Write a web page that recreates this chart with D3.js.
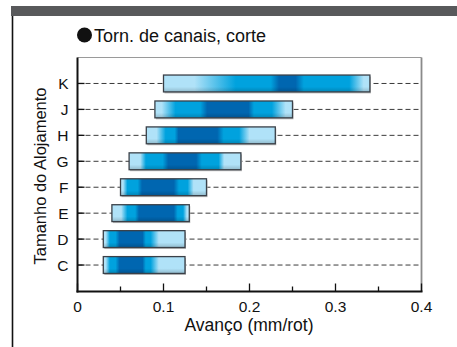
<!DOCTYPE html>
<html><head><meta charset="utf-8">
<script src="https://cdn.jsdelivr.net/npm/d3@7"></script>
<style>body{margin:0;background:#fff}svg{display:block;font-family:"Liberation Sans",Arial,sans-serif}</style>
</head><body><svg id="c" width="457" height="347"></svg>
<script>
const categories = ["K","J","H","G","F","E","D","C"];
const feedMin = [0.10,0.09,0.08,0.06,0.05,0.04,0.03,0.03];
const feedMax = [0.34,0.25,0.23,0.19,0.15,0.13,0.125,0.125];
const xTicks = [0,0.1,0.2,0.3,0.4];
const xMinorTicks = [0.05,0.15,0.25,0.35];
const title = "Torn. de canais, corte";
const xTitle = "Avanço (mm/rot)";
const yTitle = "Tamanho do Alojamento";

(function(){
const L="#b0e2f8", M="#00a2de", D="#0066b0";
const bands = [
  [[0,L],[0.15,L],[0.35,M],[0.52,M],[0.56,D],[0.64,D],[0.68,M],[0.9,M],[0.97,L],[1,L]],
  [[0,L],[0.05,L],[0.15,M],[0.33,M],[0.38,D],[0.68,D],[0.72,M],[0.85,M],[0.95,L],[1,L]],
  [[0,L],[0.08,L],[0.15,M],[0.22,M],[0.25,D],[0.55,D],[0.6,M],[0.72,M],[0.8,L],[1,L]],
  [[0,L],[0.1,L],[0.15,M],[0.3,M],[0.35,D],[0.6,D],[0.65,M],[0.8,M],[0.85,L],[1,L]],
  [[0,L],[0.03,L],[0.08,M],[0.2,M],[0.25,D],[0.62,D],[0.68,M],[0.78,M],[0.85,L],[1,L]],
  [[0,L],[0.12,L],[0.2,M],[0.3,M],[0.35,D],[0.8,D],[0.85,M],[0.92,M],[0.97,L],[1,L]],
  [[0,L],[0.03,L],[0.08,M],[0.15,M],[0.2,D],[0.48,D],[0.52,M],[0.58,M],[0.68,L],[1,L]],
  [[0,L],[0.03,L],[0.08,M],[0.15,M],[0.2,D],[0.48,D],[0.52,M],[0.58,M],[0.68,L],[1,L]]
];

const svg = d3.select("#c");
const pL=77.5, pR=421.5, pT=57.5, pB=291.5;
const x = d3.scaleLinear().domain([0,0.4]).range([pL,pR]);
const y = d3.scaleBand().domain(categories).range([70.5,278]).paddingInner(0.35).paddingOuter(0.175);

svg.append("rect").attr("x",11).attr("y",6).attr("width",446).attr("height",10).attr("fill","#58595b");
svg.append("line").attr("x1",12.5).attr("x2",12.5).attr("y1",16).attr("y2",347).attr("stroke","#111").attr("stroke-width",1.6);

svg.append("circle").attr("cx",84.5).attr("cy",35).attr("r",7.5).attr("fill","#111");
svg.append("text").attr("x",94).attr("y",41.5).attr("font-size",18).attr("fill","#111").text(title);

svg.append("line").attr("x1",pL).attr("x2",pR).attr("y1",pT).attr("y2",pT).attr("stroke","#9a9a9a").attr("stroke-width",1.2);
svg.append("line").attr("x1",pR).attr("x2",pR).attr("y1",pT).attr("y2",pB).attr("stroke","#8a8a8a").attr("stroke-width",1.8);

const yc = c => y(c)+y.bandwidth()/2;
svg.append("g").selectAll("line").data(categories).join("line")
  .attr("x1",pL).attr("x2",pR).attr("y1",d=>yc(d)).attr("y2",d=>yc(d))
  .attr("stroke","#3a3a3a").attr("stroke-width",1).attr("stroke-dasharray","5,3");

svg.append("g").selectAll("line").data(categories).join("line")
  .attr("x1",pL).attr("x2",pL+7).attr("y1",d=>yc(d)).attr("y2",d=>yc(d))
  .attr("stroke","#111").attr("stroke-width",1.3);

const defs = svg.append("defs");
bands.forEach((b,i)=>{
  const g = defs.append("linearGradient").attr("id","g"+i).attr("x1","0").attr("x2","1").attr("y1","0").attr("y2","0");
  b.forEach(s=>g.append("stop").attr("offset",s[0]).attr("stop-color",s[1]));
});
const vg = defs.append("linearGradient").attr("id","vshade").attr("x1",0).attr("x2",0).attr("y1",0).attr("y2",1);
vg.append("stop").attr("offset",0).attr("stop-color","#000").attr("stop-opacity",0);
vg.append("stop").attr("offset",0.7).attr("stop-color","#000").attr("stop-opacity",0);
vg.append("stop").attr("offset",1).attr("stop-color","#000").attr("stop-opacity",0.18);

const bars = svg.append("g");
categories.forEach((c,i)=>{
  const x0=x(feedMin[i]), x1=x(feedMax[i]);
  bars.append("rect").attr("x",x0+1).attr("y",y(c)+1.5).attr("width",x1-x0).attr("height",y.bandwidth())
    .attr("fill","#bbb");
  bars.append("rect").attr("x",x0).attr("y",y(c)).attr("width",x1-x0).attr("height",y.bandwidth())
    .attr("fill",`url(#g${i})`);
  bars.append("rect").attr("x",x0).attr("y",y(c)).attr("width",x1-x0).attr("height",y.bandwidth())
    .attr("fill","url(#vshade)").attr("stroke","#3a4048").attr("stroke-width",1.3);
});

svg.append("line").attr("x1",pL).attr("x2",pL).attr("y1",pT).attr("y2",pB+1).attr("stroke","#111").attr("stroke-width",2);
svg.append("line").attr("x1",pL-1).attr("x2",pR+1).attr("y1",pB).attr("y2",pB).attr("stroke","#111").attr("stroke-width",2);

svg.append("g").selectAll("line").data(xTicks).join("line")
  .attr("x1",d=>x(d)).attr("x2",d=>x(d)).attr("y1",pB).attr("y2",pB-8).attr("stroke","#111").attr("stroke-width",1.3);
svg.append("g").selectAll("line").data(xMinorTicks).join("line")
  .attr("x1",d=>x(d)).attr("x2",d=>x(d)).attr("y1",pB).attr("y2",pB-5).attr("stroke","#111").attr("stroke-width",1.3);
svg.append("g").selectAll("text").data(xTicks).join("text")
  .attr("x",d=>x(d)).attr("y",312).attr("text-anchor","middle").attr("font-size",15.5).attr("fill","#111")
  .text(d=>d===0?"0":d3.format(".1f")(d));
svg.append("text").attr("x",249).attr("y",331).attr("text-anchor","middle").attr("font-size",17.5).attr("fill","#111").text(xTitle);

svg.append("g").selectAll("text").data(categories).join("text")
  .attr("x",68.5).attr("y",d=>yc(d)+5.5).attr("text-anchor","end").attr("font-size",15.5).attr("fill","#111").text(d=>d);
svg.append("text").attr("transform","translate(45.5,176) rotate(-90)").attr("text-anchor","middle")
  .attr("font-size",16.5).attr("fill","#111").text(yTitle);
})();
</script></body></html>
